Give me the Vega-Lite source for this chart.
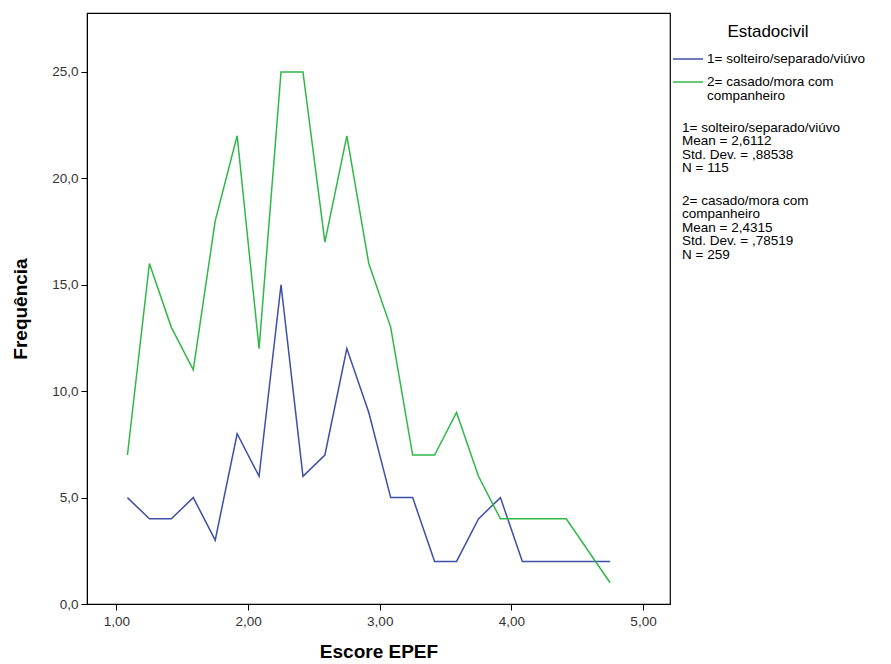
{
  "$schema": "https://vega.github.io/schema/vega-lite/v6.json",
  "width": 583,
  "height": 591,
  "autosize": "none",
  "padding": {"left": 87, "top": 13, "right": 221, "bottom": 60},
  "background": "white",
  "config": {
    "font": "Liberation Sans",
    "view": {"stroke": "black", "strokeWidth": 1.2}
  },
  "title": {
    "text": ["1= solteiro/separado/viúvo", "Mean = 2,6112", "Std. Dev. = ,88538", "N = 115"],
    "subtitle": ["2= casado/mora com", "companheiro", "Mean = 2,4315", "Std. Dev. = ,78519", "N = 259"],
    "orient": "top",
    "anchor": "start",
    "frame": "group",
    "dx": 595,
    "dy": 248,
    "offset": 0,
    "font": "Liberation Sans",
    "subtitleFont": "Liberation Sans",
    "fontSize": 13.5,
    "subtitleFontSize": 13.5,
    "fontWeight": "normal",
    "lineHeight": 13.5,
    "subtitleLineHeight": 13.5,
    "subtitlePadding": 19,
    "color": "black",
    "subtitleColor": "black"
  },
  "data": {
    "values": [
      {"escore": 1.0833, "freq": 5, "grupo": "1= solteiro/separado/viúvo"},
      {"escore": 1.25, "freq": 4, "grupo": "1= solteiro/separado/viúvo"},
      {"escore": 1.4167, "freq": 4, "grupo": "1= solteiro/separado/viúvo"},
      {"escore": 1.5833, "freq": 5, "grupo": "1= solteiro/separado/viúvo"},
      {"escore": 1.75, "freq": 3, "grupo": "1= solteiro/separado/viúvo"},
      {"escore": 1.9167, "freq": 8, "grupo": "1= solteiro/separado/viúvo"},
      {"escore": 2.0833, "freq": 6, "grupo": "1= solteiro/separado/viúvo"},
      {"escore": 2.25, "freq": 15, "grupo": "1= solteiro/separado/viúvo"},
      {"escore": 2.4167, "freq": 6, "grupo": "1= solteiro/separado/viúvo"},
      {"escore": 2.5833, "freq": 7, "grupo": "1= solteiro/separado/viúvo"},
      {"escore": 2.75, "freq": 12, "grupo": "1= solteiro/separado/viúvo"},
      {"escore": 2.9167, "freq": 9, "grupo": "1= solteiro/separado/viúvo"},
      {"escore": 3.0833, "freq": 5, "grupo": "1= solteiro/separado/viúvo"},
      {"escore": 3.25, "freq": 5, "grupo": "1= solteiro/separado/viúvo"},
      {"escore": 3.4167, "freq": 2, "grupo": "1= solteiro/separado/viúvo"},
      {"escore": 3.5833, "freq": 2, "grupo": "1= solteiro/separado/viúvo"},
      {"escore": 3.75, "freq": 4, "grupo": "1= solteiro/separado/viúvo"},
      {"escore": 3.9167, "freq": 5, "grupo": "1= solteiro/separado/viúvo"},
      {"escore": 4.0833, "freq": 2, "grupo": "1= solteiro/separado/viúvo"},
      {"escore": 4.25, "freq": 2, "grupo": "1= solteiro/separado/viúvo"},
      {"escore": 4.4167, "freq": 2, "grupo": "1= solteiro/separado/viúvo"},
      {"escore": 4.75, "freq": 2, "grupo": "1= solteiro/separado/viúvo"},
      {"escore": 1.0833, "freq": 7, "grupo": "2= casado/mora com companheiro"},
      {"escore": 1.25, "freq": 16, "grupo": "2= casado/mora com companheiro"},
      {"escore": 1.4167, "freq": 13, "grupo": "2= casado/mora com companheiro"},
      {"escore": 1.5833, "freq": 11, "grupo": "2= casado/mora com companheiro"},
      {"escore": 1.75, "freq": 18, "grupo": "2= casado/mora com companheiro"},
      {"escore": 1.9167, "freq": 22, "grupo": "2= casado/mora com companheiro"},
      {"escore": 2.0833, "freq": 12, "grupo": "2= casado/mora com companheiro"},
      {"escore": 2.25, "freq": 25, "grupo": "2= casado/mora com companheiro"},
      {"escore": 2.4167, "freq": 25, "grupo": "2= casado/mora com companheiro"},
      {"escore": 2.5833, "freq": 17, "grupo": "2= casado/mora com companheiro"},
      {"escore": 2.75, "freq": 22, "grupo": "2= casado/mora com companheiro"},
      {"escore": 2.9167, "freq": 16, "grupo": "2= casado/mora com companheiro"},
      {"escore": 3.0833, "freq": 13, "grupo": "2= casado/mora com companheiro"},
      {"escore": 3.25, "freq": 7, "grupo": "2= casado/mora com companheiro"},
      {"escore": 3.4167, "freq": 7, "grupo": "2= casado/mora com companheiro"},
      {"escore": 3.5833, "freq": 9, "grupo": "2= casado/mora com companheiro"},
      {"escore": 3.75, "freq": 6, "grupo": "2= casado/mora com companheiro"},
      {"escore": 3.9167, "freq": 4, "grupo": "2= casado/mora com companheiro"},
      {"escore": 4.0833, "freq": 4, "grupo": "2= casado/mora com companheiro"},
      {"escore": 4.25, "freq": 4, "grupo": "2= casado/mora com companheiro"},
      {"escore": 4.4167, "freq": 4, "grupo": "2= casado/mora com companheiro"},
      {"escore": 4.75, "freq": 1, "grupo": "2= casado/mora com companheiro"}
    ]
  },
  "mark": {"type": "line", "strokeWidth": 1.5},
  "encoding": {
    "x": {
      "field": "escore",
      "type": "quantitative",
      "scale": {"domain": [0.776, 5.205], "nice": false, "zero": false},
      "axis": {
        "values": [1, 2, 3, 4, 5],
        "labelExpr": "replace(format(datum.value, '.2f'), '.', ',')",
        "grid": false,
        "tickSize": 6,
        "tickColor": "black",
        "domainColor": "black",
        "labelFontSize": 13.5,
        "labelColor": "#333333",
        "labelPadding": 4,
        "title": "Escore EPEF",
        "titleFontSize": 19,
        "titleFontWeight": "bold",
        "titleColor": "black",
        "titlePadding": 15
      }
    },
    "y": {
      "field": "freq",
      "type": "quantitative",
      "scale": {"domain": [0, 27.77], "nice": false},
      "axis": {
        "values": [0, 5, 10, 15, 20, 25],
        "labelExpr": "replace(format(datum.value, '.1f'), '.', ',')",
        "grid": false,
        "tickSize": 6,
        "tickColor": "black",
        "domainColor": "black",
        "labelFontSize": 13.5,
        "labelColor": "#333333",
        "labelPadding": 3,
        "title": "Frequência",
        "titleFontSize": 19,
        "titleFontWeight": "bold",
        "titleColor": "black",
        "titlePadding": 21
      }
    },
    "color": {
      "field": "grupo",
      "type": "nominal",
      "scale": {
        "domain": ["1= solteiro/separado/viúvo", "2= casado/mora com companheiro"],
        "range": ["#3E4FA6", "#2EB848"]
      },
      "legend": {
        "title": "Estadocivil",
        "orient": "none",
        "legendX": 585,
        "legendY": 11,
        "titleFontSize": 17,
        "titleFontWeight": "normal",
        "titleColor": "black",
        "titleAnchor": "middle",
        "titlePadding": 2,
        "symbolType": "stroke",
        "symbolSize": 900,
        "symbolStrokeWidth": 1.5,
        "labelFontSize": 13.5,
        "labelColor": "black",
        "labelOffset": 3,
        "labelLimit": 300,
        "labelBaseline": "top",
        "rowPadding": -9,
        "labelExpr": "datum.value == '2= casado/mora com companheiro' ? ['2= casado/mora com', 'companheiro'] : datum.label",
        "encode": {"labels": {"update": {"dy": {"value": -7}, "lineHeight": {"value": 13.5}}}}
      }
    }
  }
}
